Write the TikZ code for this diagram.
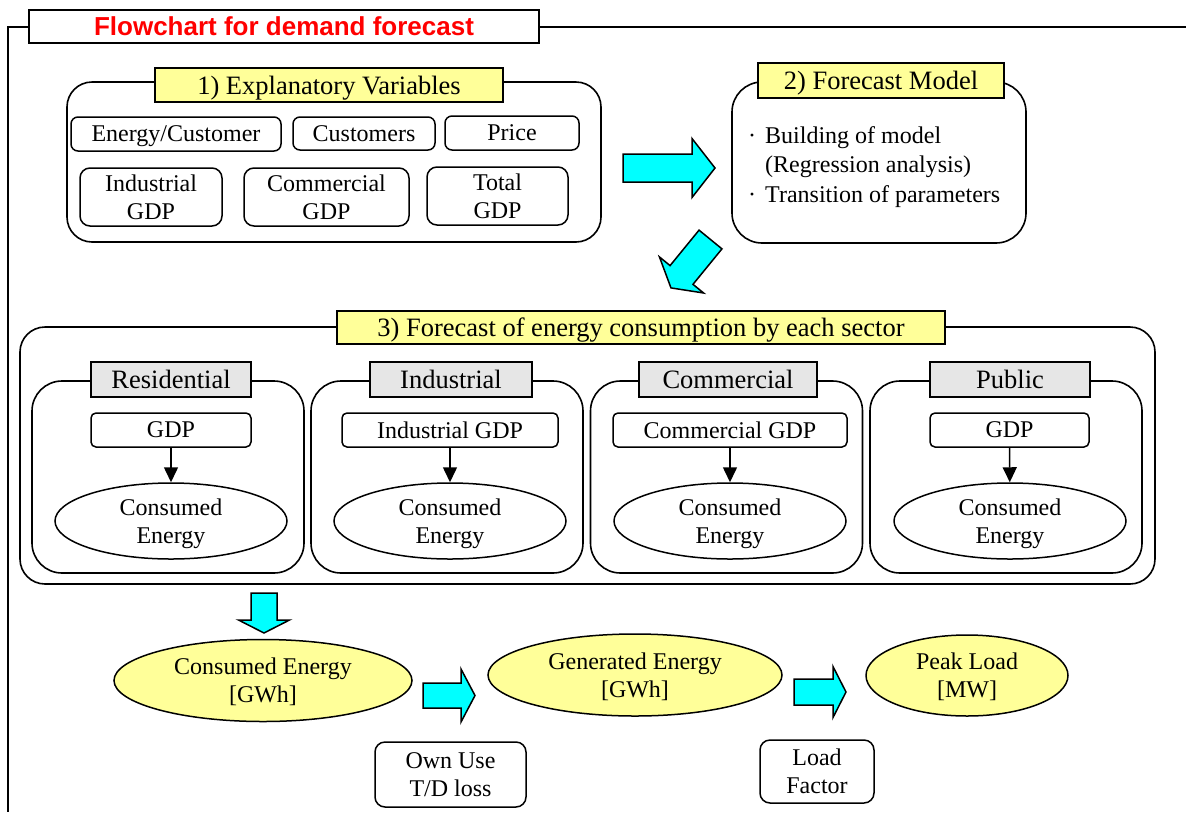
\documentclass[tikz,border=0pt]{standalone}
\usepackage{fontspec}
\setmainfont{Liberation Serif}
\newfontfamily\headsans{Liberation Sans}
\usetikzlibrary{shapes.geometric,arrows.meta}

\definecolor{labelyellow}{RGB}{255,255,153}
\definecolor{labelgray}{RGB}{230,230,230}
\definecolor{arrowcyan}{RGB}{0,255,255}
\definecolor{titlered}{RGB}{255,0,0}

\newcommand\bodysize{\fontsize{24pt}{28pt}\selectfont}
\newcommand\labelsize{\fontsize{26.5pt}{31pt}\selectfont}

% block arrow: x, y (tail centre), angle, length, head length,
% half shaft width, half head width, name of the tail point
\newcommand\blockarrow[8]{%
  \begin{scope}[shift={(#1,#2)},rotate=#3]
    \coordinate (#8) at (0,0);
    \filldraw[cyanarrow] (0,-#6) -- ({#4-#5},-#6) -- ({#4-#5},-#7) -- (#4,0)
      -- ({#4-#5},#7) -- ({#4-#5},#6) -- (0,#6) -- cycle;
  \end{scope}}

\tikzset{
  frame/.style={line width=2pt},
  titlebox/.style={draw, line width=2pt, fill=white, inner sep=0pt, text=titlered,
    text depth=0pt, font=\headsans\bfseries\fontsize{26pt}{30pt}\selectfont},
  groupbox/.style={draw, line width=1.6pt, rounded corners=#1, inner sep=0pt},
  groupbox/.default=25pt,
  ylabel/.style={draw, line width=1.6pt, fill=labelyellow, inner sep=0pt,
    text depth=0pt, font=\labelsize},
  glabel/.style={draw, line width=1.6pt, fill=labelgray, inner sep=0pt,
    text depth=0pt, font=\labelsize},
  itembox/.style={draw, line width=1.5pt, rounded corners=#1, fill=white, inner sep=0pt,
    text depth=0pt, align=center, font=\bodysize},
  itembox/.default=7pt,
  resultell/.style={draw, ellipse, line width=1.5pt, fill=white, inner sep=0pt,
    text depth=0pt, align=center, font=\bodysize},
  outell/.style={resultell, fill=labelyellow},
  cyanarrow/.style={fill=arrowcyan, draw=black, line width=1.5pt, line join=miter},
  flow/.style={line width=1.5pt, -{Triangle[length=15pt,width=14pt]}},
}

\begin{document}
\begin{tikzpicture}[x=1pt,y=-1pt]
\useasboundingbox (0,0) rectangle (1186,812);

% ---- title and page frame ----
\node[titlebox, minimum width=510pt, minimum height=33pt] (title) at (284,26.5)
  {Flowchart for demand forecast};
\coordinate (frameR) at (1186,26.5);
\coordinate (frameB) at (8,812);
\draw[frame] (title.west) -| (frameB);
\draw[frame] (title.east) -- (frameR);

% ---- 1) explanatory variables ----
\node[groupbox, minimum width=534pt, minimum height=160pt] (vars) at (334,162) {};
\node[ylabel, minimum width=348pt, minimum height=34pt] (varsT) at (329,85)
  {1) Explanatory Variables};
\node[itembox, minimum width=210pt, minimum height=34pt] (ec)    at (176,134)   {Energy/Customer};
\node[itembox, minimum width=142pt, minimum height=33pt] (cust)  at (364,133.5) {Customers};
\node[itembox, minimum width=134pt, minimum height=34pt] (price) at (512,133)   {Price};
\node[itembox=10pt, minimum width=142pt, minimum height=58pt] (igdp) at (151,197)   {Industrial\\GDP};
\node[itembox=10pt, minimum width=165pt, minimum height=58pt] (cgdp) at (326.5,197) {Commercial\\GDP};
\node[itembox=10pt, minimum width=141pt, minimum height=58pt] (tgdp) at (497.5,196) {Total\\GDP};

\blockarrow{623}{168}{0}{92}{23}{14}{29.5}{arrA}

% ---- 2) forecast model ----
\node[groupbox=30pt, minimum width=294pt, minimum height=161pt] (model) at (879,162.5) {};
\node[ylabel, minimum width=246pt, minimum height=35pt] (modelT) at (881,80.5)
  {2) Forecast Model};
\node[anchor=west, inner sep=0pt, align=left, font=\fontsize{24pt}{29.5pt}\selectfont]
  (modelText) at (748,167)
  {\makebox[17pt][l]{·}Building of model\\
   \hspace*{17pt}(Regression analysis)\\
   \makebox[17pt][l]{·}Transition of parameters};

\blockarrow{710.5}{239.5}{230.75}{62.5}{16.7}{14.8}{28.5}{arrB}

% ---- 3) sector forecast ----
\node[groupbox, minimum width=1135pt, minimum height=257pt] (sectors) at (587.5,455.5) {};
\node[ylabel, minimum width=608pt, minimum height=33pt] (sectorsT) at (641,327.5)
  {3) Forecast of energy consumption by each sector};

% residential
\node[groupbox=30pt, minimum width=272pt, minimum height=192pt] (res) at (168,477) {};
\node[glabel, minimum width=160pt, minimum height=35pt] (resT) at (171,379.5) {Residential};
\node[itembox=5pt, minimum width=160pt, minimum height=34pt] (resIn) at (171,430) {GDP};
\node[resultell, minimum width=232pt, minimum height=76pt] (resOut) at (171,521) {Consumed\\Energy};
\draw[flow] (resIn) -- (resOut);

% industrial
\node[groupbox=30pt, minimum width=272pt, minimum height=192pt] (ind) at (447,477) {};
\node[glabel, minimum width=162pt, minimum height=35pt] (indT) at (451,379.5) {Industrial};
\node[itembox=5pt, minimum width=216pt, minimum height=34pt] (indIn) at (450,430) {Industrial GDP};
\node[resultell, minimum width=232pt, minimum height=76pt] (indOut) at (450,521) {Consumed\\Energy};
\draw[flow] (indIn) -- (indOut);

% commercial
\node[groupbox=30pt, minimum width=272pt, minimum height=192pt] (com) at (726.5,477) {};
\node[glabel, minimum width=178pt, minimum height=35pt] (comT) at (728,379.5) {Commercial};
\node[itembox=5pt, minimum width=234pt, minimum height=34pt] (comIn) at (730,430) {Commercial GDP};
\node[resultell, minimum width=232pt, minimum height=76pt] (comOut) at (730,521) {Consumed\\Energy};
\draw[flow] (comIn) -- (comOut);

% public
\node[groupbox=30pt, minimum width=272pt, minimum height=192pt] (pub) at (1006,477) {};
\node[glabel, minimum width=160pt, minimum height=35pt] (pubT) at (1010,379.5) {Public};
\node[itembox=5pt, minimum width=159pt, minimum height=34pt] (pubIn) at (1009.5,430) {GDP};
\node[resultell, minimum width=232pt, minimum height=76pt] (pubOut) at (1010,521) {Consumed\\Energy};
\draw[flow] (pubIn) -- (pubOut);

% ---- totals ----
\blockarrow{264}{593}{-90}{40}{13}{13}{25.5}{arrC}
\node[outell, minimum width=298pt, minimum height=82pt] (consumed) at (263,680.5)
  {Consumed Energy\\{[GWh]}};
\blockarrow{423}{695.5}{0}{52}{14}{12.5}{26.5}{arrD}
\node[outell, minimum width=294pt, minimum height=82pt] (generated) at (635,675)
  {Generated Energy\\{[GWh]}};
\blockarrow{794}{692}{0}{52}{13}{13}{25.5}{arrE}
\node[outell, minimum width=202pt, minimum height=81pt] (peak) at (967,675.5)
  {Peak Load\\{[MW]}};

\node[itembox=10pt, minimum width=151pt, minimum height=65pt] (ownuse) at (450.5,774.5)
  {Own Use\\T/D loss};
\node[itembox=10pt, minimum width=114pt, minimum height=63pt] (loadf) at (817,771.5)
  {Load\\Factor};
\end{tikzpicture}
\end{document}
